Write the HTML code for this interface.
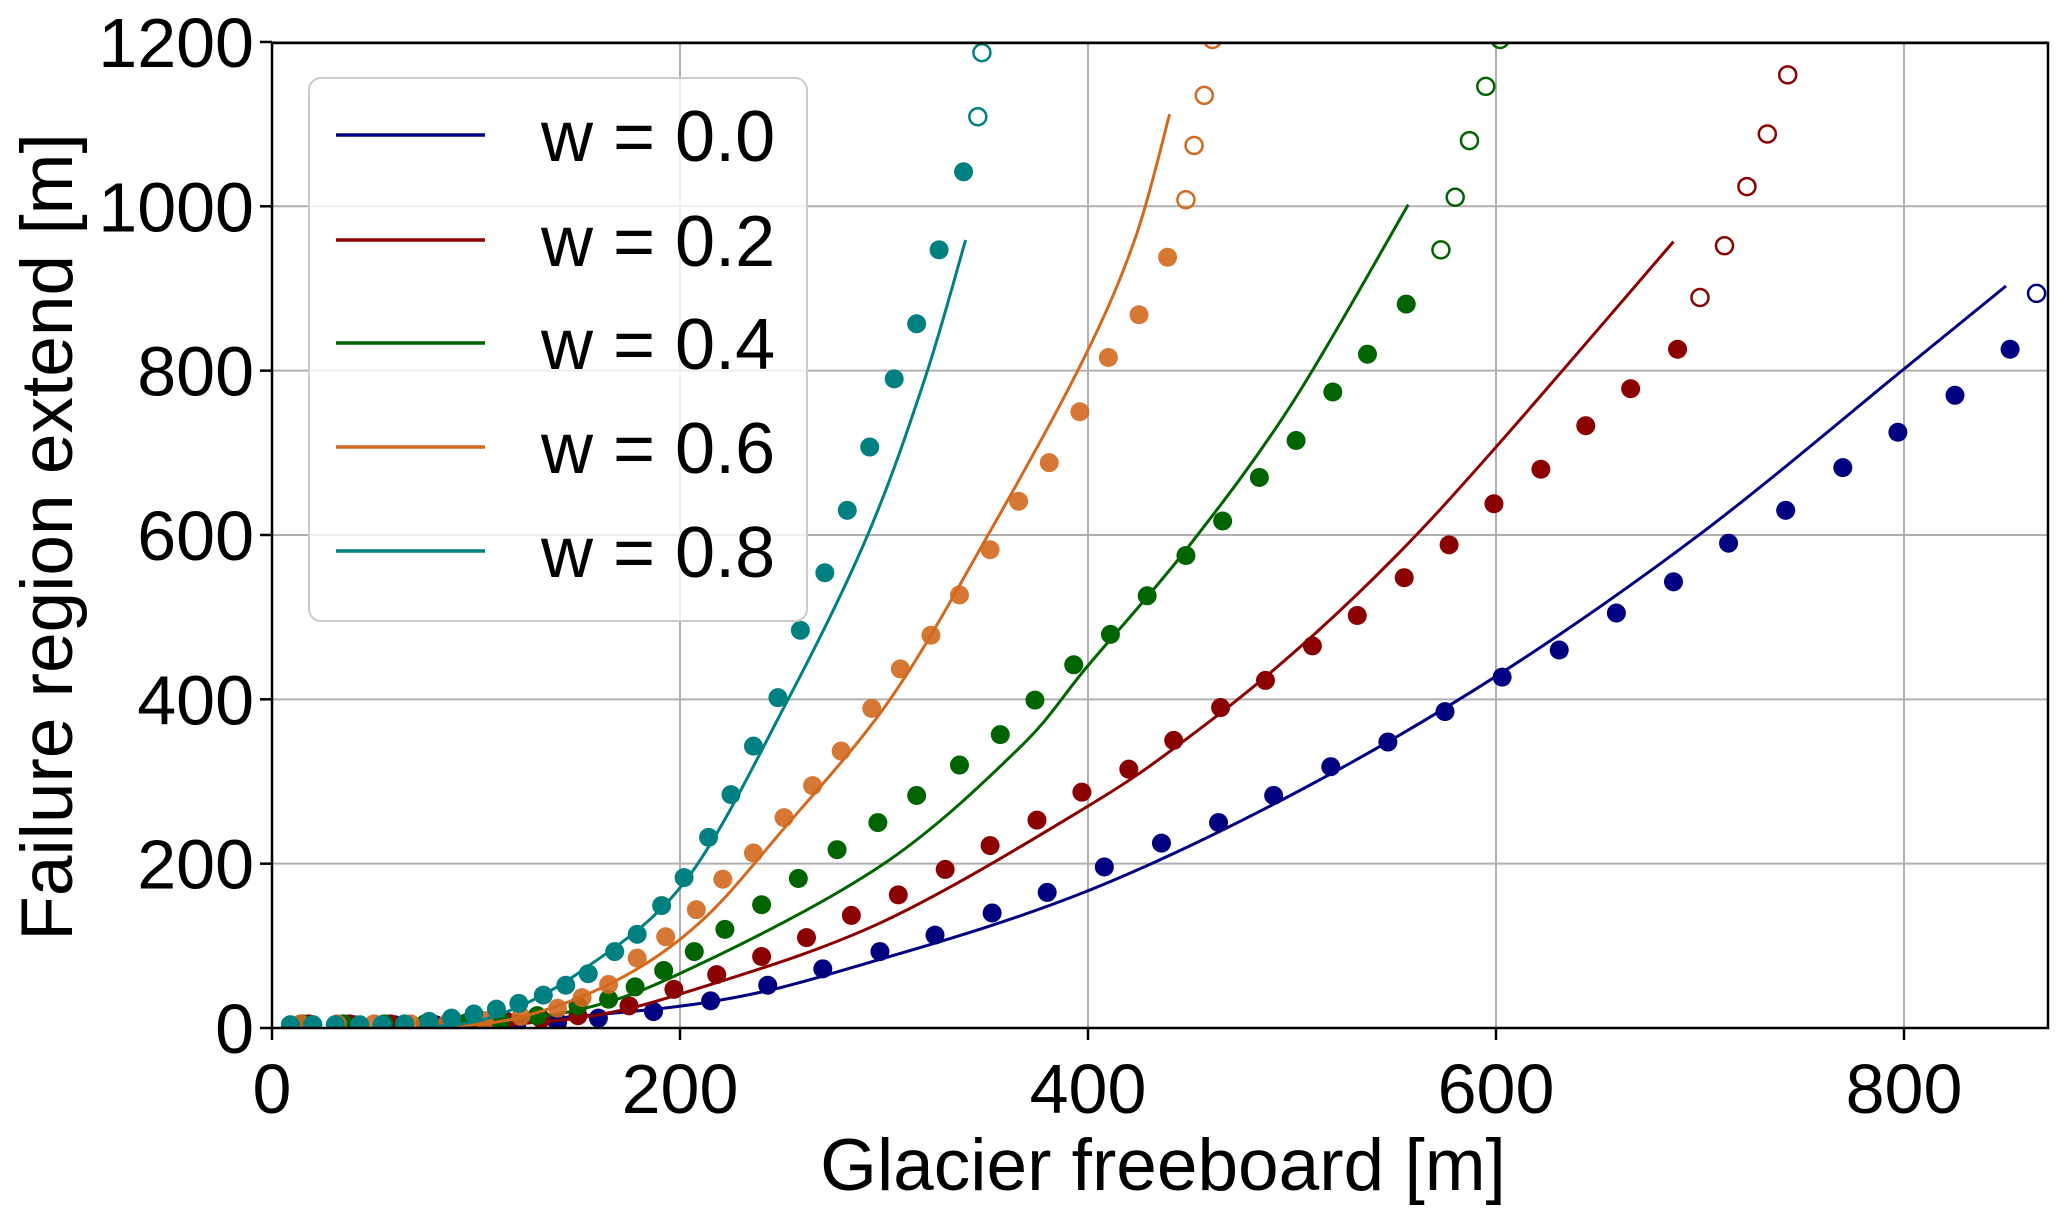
<!DOCTYPE html>
<html><head><meta charset="utf-8"><style>
html,body{margin:0;padding:0;background:#fff;}
svg{display:block;font-family:"Liberation Sans",sans-serif;}
</style></head><body>
<svg id="chart" width="2067" height="1211" viewBox="0 0 2067 1211" xmlns="http://www.w3.org/2000/svg">
<defs><clipPath id="plotclip"><rect x="272" y="43" width="1776" height="985"/></clipPath></defs>
<g id="grid"></g>
<g id="series" clip-path="url(#plotclip)"></g>
<rect x="272" y="43" width="1776" height="985" fill="none" stroke="#000" stroke-width="2.5"/>
<g id="ticks"></g>
<text x="1163" y="1190" font-size="73" text-anchor="middle">Glacier freeboard [m]</text>
<text transform="translate(72,537) rotate(-90)" font-size="73" text-anchor="middle">Failure region extend [m]</text>
<g id="legend"></g>
</svg>
<script>
const xTicks=[0,200,400,600,800];
const yTicks=[0,200,400,600,800,1000,1200];
const seriesNames=["w = 0.0","w = 0.2","w = 0.4","w = 0.6","w = 0.8"];
const seriesColors=["#000080","#8b0000","#006400","#d2691e","#008080"];
// fitted curves
const curveX0=[74,210,300,400,500,600,700,800,850];
const curveY0=[0,30,85,167,284,428,601,802,903];
const curveX1=[74,150,210,300,400,450,500,550,600,687];
const curveY1=[0,12,49,130,270,355,455,572,707,957];
const curveX2=[74,150,210,300,366,400,449,500,557];
const curveY2=[0,22,78,200,340,441,585,760,1002];
const curveX3=[74,120,169,210,250,303,351,397,423,440];
const curveY3=[0,12,58,129,240,400,600,810,960,1112];
const curveX4=[74,110,152,203,253,292,320,340];
const curveY4=[0,15,70,180,400,600,790,959];
// filled markers
const dotX0=[20,40,60,80,100,120,140,160,187,215,243,270,298,325,353,380,408,436,464,491,519,547,575,603,631,659,687,714,742,770,797,825,852];
const dotY0=[4,4,4,4,4,5,7,12,20,33,52,72,93,113,140,165,196,225,250,283,318,348,385,427,460,505,543,590,630,682,725,770,826];
const dotX1=[18,38,58,78,98,115,132,150,175,197,218,240,262,284,307,330,352,375,397,420,442,465,487,510,532,555,577,599,622,644,666,689];
const dotY1=[5,5,5,5,5,8,11,15,27,47,65,87,110,137,162,193,222,253,287,315,350,390,423,465,502,548,588,638,680,733,778,826];
const dotX2=[15,35,55,75,95,112,130,150,165,178,192,207,222,240,258,277,297,316,337,357,374,393,411,429,448,466,484,502,520,537,556];
const dotY2=[5,5,5,5,6,9,15,27,35,50,70,93,120,150,182,217,250,283,320,357,399,442,479,526,575,617,670,715,774,820,881];
const dotX3=[14,32,50,68,86,104,122,140,152,165,179,193,208,221,236,251,265,279,294,308,323,337,352,366,381,396,410,425,439];
const dotY3=[5,5,5,5,6,9,14,24,37,53,85,111,144,181,213,256,295,337,389,437,478,527,582,641,688,750,816,868,938];
const dotX4=[9,20,31,43,54,65,77,88,99,110,121,133,144,155,168,179,191,202,214,225,236,248,259,271,282,293,305,316,327,339];
const dotY4=[4,4,4,4,4,5,8,12,17,23,30,40,52,66,93,114,149,183,232,284,343,402,484,554,630,707,790,857,947,1042];
// open markers (outside fit range)
const openX0=[865];
const openY0=[894];
const openX1=[700,712,723,733,743];
const openY1=[889,952,1024,1088,1160];
const openX2=[573,580,587,595,602];
const openY2=[947,1011,1080,1146,1203];
const openX3=[448,452,457,461];
const openY3=[1008,1074,1135,1203];
const openX4=[346,348];
const openY4=[1109,1187];

const NS="http://www.w3.org/2000/svg";
const X0=272,XS=2.04,Y0=1028,YS=0.8217;
function sx(v){return X0+v*XS;}
function sy(v){return Y0-v*YS;}
function mk(tag,attrs,parent){const e=document.createElementNS(NS,tag);for(const k in attrs)e.setAttribute(k,attrs[k]);parent.appendChild(e);return e;}
function smoothPath(xs,ys){
  const p=xs.map((x,i)=>[sx(x),sy(ys[i])]);
  let d='M'+p[0][0]+','+p[0][1];
  for(let i=0;i<p.length-1;i++){
    const p0=p[Math.max(0,i-1)],p1=p[i],p2=p[i+1],p3=p[Math.min(p.length-1,i+2)];
    const c1=[p1[0]+(p2[0]-p0[0])/6,p1[1]+(p2[1]-p0[1])/6];
    const c2=[p2[0]-(p3[0]-p1[0])/6,p2[1]-(p3[1]-p1[1])/6];
    d+=' C'+c1[0]+','+c1[1]+' '+c2[0]+','+c2[1]+' '+p2[0]+','+p2[1];
  }
  return d;
}

const grid=document.getElementById('grid'),ticks=document.getElementById('ticks');
xTicks.forEach(t=>{
  const l=mk('line',{x1:sx(t),x2:sx(t),y1:43,y2:1028,stroke:'#b0b0b0','stroke-width':2},grid);
  
  
  const tk=mk('line',{x1:sx(t),x2:sx(t),y1:1028,y2:1040,stroke:'#000','stroke-width':2.5},ticks);
  
  
  const tx=mk('text',{x:sx(t),y:1113,'font-size':70,'text-anchor':'middle'},ticks);
  tx.textContent=String(t);
  
  
});
yTicks.forEach(t=>{
  const l=mk('line',{x1:272,x2:2048,y1:sy(t),y2:sy(t),stroke:'#b0b0b0','stroke-width':2},grid);
  
  
  const tk=mk('line',{x1:260,x2:272,y1:sy(t),y2:sy(t),stroke:'#000','stroke-width':2.5},ticks);
  
  
  const tx=mk('text',{x:254,y:sy(t)+25,'font-size':70,'text-anchor':'end'},ticks);
  tx.textContent=String(t);
  
  
});

const curvesX=[curveX0,curveX1,curveX2,curveX3,curveX4],curvesY=[curveY0,curveY1,curveY2,curveY3,curveY4];
const dotsX=[dotX0,dotX1,dotX2,dotX3,dotX4],dotsY=[dotY0,dotY1,dotY2,dotY3,dotY4];
const opensX=[openX0,openX1,openX2,openX3,openX4],opensY=[openY0,openY1,openY2,openY3,openY4];
const sg=document.getElementById('series');
for(let s=0;s<5;s++){
  const c=seriesColors[s];
  const g=mk('g',{},sg);
  
  
  dotsX[s].forEach((x,i)=>{
    const d=mk('circle',{cx:sx(x),cy:sy(dotsY[s][i]),r:9.5,fill:c,opacity:s==3?0.9:1},g);
    
    
  });
  opensX[s].forEach((x,i)=>{
    const d=mk('circle',{cx:sx(x),cy:sy(opensY[s][i]),r:8.5,fill:'none',stroke:c,'stroke-width':2.5},g);
    
    
  });
  const pl=mk('path',{d:smoothPath(curvesX[s],curvesY[s]),fill:'none',stroke:c,'stroke-width':3,'stroke-linejoin':'round'},g);
  
  
}

const lg=document.getElementById('legend');
const box=mk('rect',{x:309,y:78,width:498,height:543,rx:12,fill:'rgba(255,255,255,0.8)',stroke:'#cccccc','stroke-width':2},lg);


const legY=[135,240,343,447,551];
seriesNames.forEach((n,i)=>{
  const l=mk('line',{x1:336,x2:485,y1:legY[i],y2:legY[i],stroke:seriesColors[i],'stroke-width':3.5},lg);
  
  
  const t=mk('text',{x:541,y:legY[i]+26,'font-size':72},lg);
  t.textContent=n;
  
  
});
</script>
</body></html>
